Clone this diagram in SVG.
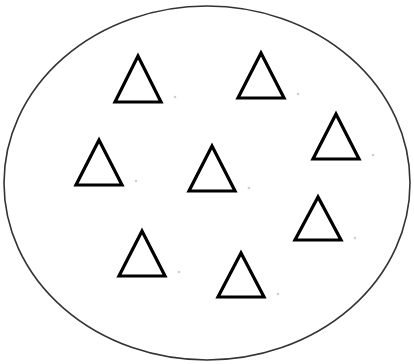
<svg xmlns="http://www.w3.org/2000/svg" width="414" height="364" viewBox="0 0 414 364">
<style>
.tri{fill:none;stroke:#000;stroke-width:3.2;stroke-linejoin:miter}
.dot{fill:#d0d0d0}
</style>
<rect width="414" height="364" fill="#fff"/>
<g id="set">
<ellipse cx="207" cy="183" rx="203" ry="177" fill="none" stroke="#333" stroke-width="1.6"/>
</g>
<g id="t1"><polygon class="tri" points="138,56 115,102 161,102"/><circle class="dot" cx="175" cy="97" r="1.3"/></g>
<g id="t2"><polygon class="tri" points="261,53 238,98 284,98"/><circle class="dot" cx="298" cy="94" r="1.3"/></g>
<g id="t3"><polygon class="tri" points="336,114 313,159 359,159"/><circle class="dot" cx="373" cy="155" r="1.3"/></g>
<g id="t4"><polygon class="tri" points="99,140 76,185 122,185"/><circle class="dot" cx="136" cy="181" r="1.3"/></g>
<g id="t5"><polygon class="tri" points="212,146 189,191 235,191"/><circle class="dot" cx="249" cy="188" r="1.3"/></g>
<g id="t6"><polygon class="tri" points="318,197 295,240 341,240"/><circle class="dot" cx="355" cy="238" r="1.3"/></g>
<g id="t7"><polygon class="tri" points="142,231 119,276 165,276"/><circle class="dot" cx="179" cy="272" r="1.3"/></g>
<g id="t8"><polygon class="tri" points="241,253 218,297 264,297"/><circle class="dot" cx="278" cy="294" r="1.3"/></g>
<g id="connectors"></g>
</svg>
